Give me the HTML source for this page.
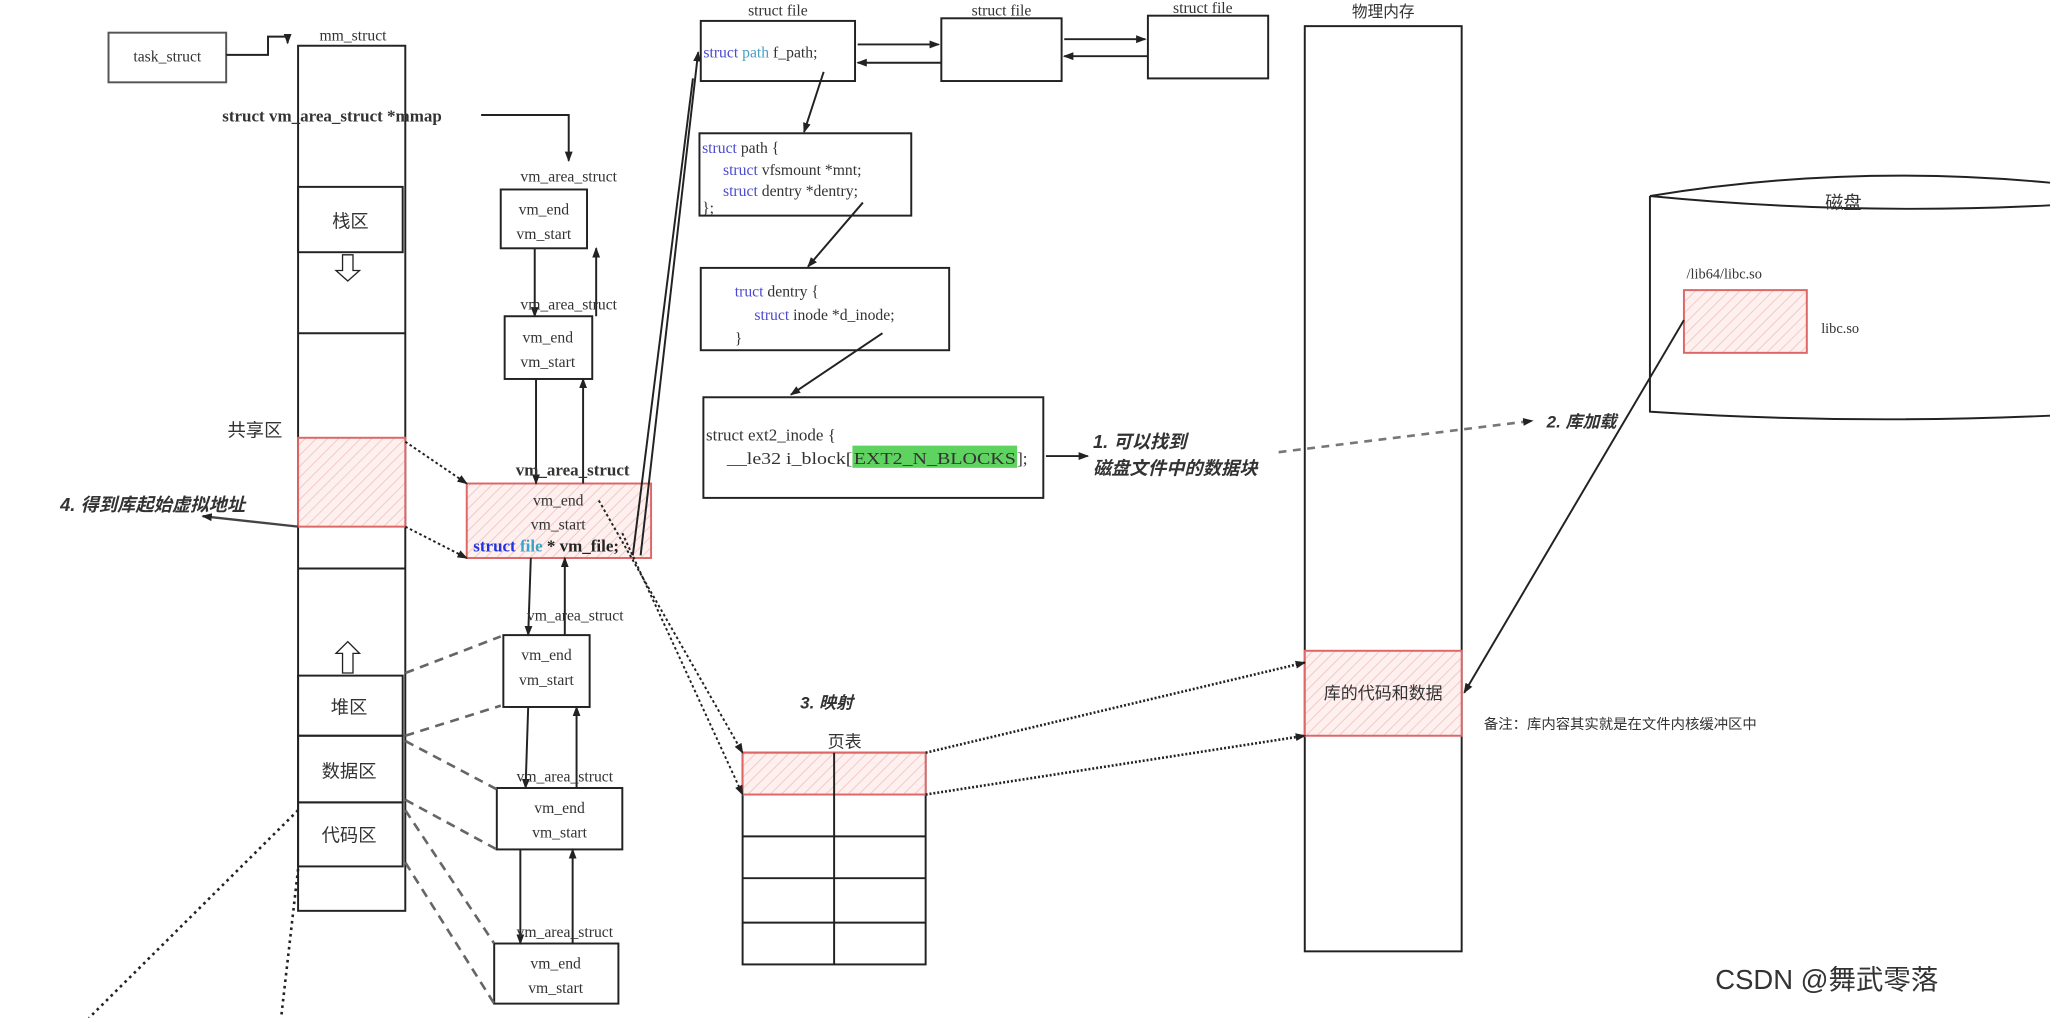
<!DOCTYPE html>
<html><head><meta charset="utf-8"><style>
html,body{margin:0;padding:0;background:#fff;}
svg{display:block;}
text{font-family:"Liberation Serif","Noto Serif CJK SC",serif;fill:#333;}
.cn{font-family:"Liberation Sans","Noto Sans CJK SC",sans-serif;}
</style></head><body>
<svg width="2050" height="1018" viewBox="0 0 1568 779" preserveAspectRatio="none" xmlns="http://www.w3.org/2000/svg">
<defs>
<marker id="a" markerWidth="8" markerHeight="8" refX="7" refY="4" orient="auto" markerUnits="userSpaceOnUse"><path d="M0,1 L8,4 L0,7 z" fill="#222"/></marker>
<pattern id="h" width="6" height="6" patternUnits="userSpaceOnUse" patternTransform="rotate(45)"><rect width="6" height="6" fill="#fdf0ef"/><line x1="0" y1="0" x2="0" y2="6" stroke="#f3c9c6" stroke-width="1.5"/></pattern>
</defs>
<g fill="none" stroke="#222" stroke-width="1.5">
<rect x="83" y="25" width="90" height="38" stroke="#555"/>
<polyline points="173,42 205,42 205,28 220,28 220,33" marker-end="url(#a)"/>
<rect x="228" y="35" width="82" height="662"/>
<rect x="228" y="143" width="80" height="50"/>
<line x1="228" y1="255" x2="310" y2="255"/>
<line x1="228" y1="435" x2="310" y2="435"/>
<rect x="228" y="335" width="82" height="68" fill="url(#h)" stroke="#d66"/>
<rect x="228" y="517" width="80" height="46"/>
<rect x="228" y="563" width="80" height="51"/>
<rect x="228" y="614" width="80" height="49"/>
<path d="M262,195 h8 v12 h5 l-9,8 l-9,-8 h5 z" stroke-width="1"/>
<path d="M262,515 h8 v-15 h5 l-9,-9 l-9,9 h5 z" stroke-width="1"/>
<polyline points="368,88 435,88 435,123" marker-end="url(#a)"/>
<rect x="383" y="145" width="66" height="45"/>
<rect x="386" y="242" width="67" height="48"/>
<rect x="357" y="370" width="141" height="57" fill="url(#h)" stroke="#d66"/>
<rect x="385" y="486" width="66" height="55"/>
<rect x="380" y="603" width="96" height="47"/>
<rect x="378" y="722" width="95" height="46"/>
<line x1="409" y1="190" x2="409" y2="242" marker-end="url(#a)"/>
<line x1="456" y1="242" x2="456" y2="190" marker-end="url(#a)"/>
<line x1="410" y1="290" x2="410" y2="370" marker-end="url(#a)"/>
<line x1="446" y1="370" x2="446" y2="290" marker-end="url(#a)"/>
<line x1="406" y1="427" x2="404" y2="486" marker-end="url(#a)"/>
<line x1="432" y1="486" x2="432" y2="427" marker-end="url(#a)"/>
<line x1="404" y1="541" x2="402" y2="603" marker-end="url(#a)"/>
<line x1="441" y1="603" x2="441" y2="541" marker-end="url(#a)"/>
<line x1="398" y1="650" x2="398" y2="722" marker-end="url(#a)"/>
<line x1="438" y1="722" x2="438" y2="650" marker-end="url(#a)"/>
<line x1="310" y1="338" x2="357" y2="370" stroke-dasharray="2,2" marker-end="url(#a)"/>
<line x1="310" y1="403" x2="357" y2="427" stroke-dasharray="2,2" marker-end="url(#a)"/>
<g stroke="#666" stroke-width="2" stroke-dasharray="7,5">
<line x1="310" y1="515" x2="383" y2="487"/>
<line x1="310" y1="563" x2="383" y2="540"/>
<line x1="310" y1="567" x2="380" y2="604"/>
<line x1="310" y1="612" x2="380" y2="650"/>
<line x1="310" y1="620" x2="378" y2="722"/>
<line x1="310" y1="660" x2="378" y2="768"/>
</g>
<line x1="228" y1="403" x2="155" y2="395" stroke="#444" stroke-width="1.8" marker-end="url(#a)"/>
<line x1="228" y1="620" x2="68" y2="779" stroke-dasharray="2,3" stroke-width="2"/>
<line x1="228" y1="665" x2="215" y2="779" stroke-dasharray="2,3" stroke-width="2"/>
<line x1="490" y1="425" x2="534" y2="40" marker-end="url(#a)"/>
<line x1="484" y1="425" x2="530" y2="60"/>
<rect x="536" y="16" width="118" height="46"/>
<rect x="720" y="14" width="92" height="48"/>
<rect x="878" y="12" width="92" height="48"/>
<line x1="656" y1="34" x2="718" y2="34" marker-end="url(#a)"/>
<line x1="720" y1="48" x2="656" y2="48" marker-end="url(#a)"/>
<line x1="814" y1="30" x2="876" y2="30" marker-end="url(#a)"/>
<line x1="878" y1="43" x2="814" y2="43" marker-end="url(#a)"/>
<line x1="630" y1="55" x2="615" y2="101" marker-end="url(#a)"/>
<rect x="535" y="102" width="162" height="63"/>
<line x1="660" y1="155" x2="618" y2="204" marker-end="url(#a)"/>
<rect x="536" y="205" width="190" height="63"/>
<line x1="675" y1="255" x2="605" y2="302" marker-end="url(#a)"/>
<rect x="538" y="304" width="260" height="77"/>
<line x1="800" y1="349" x2="832" y2="349" marker-end="url(#a)"/>
<line x1="978" y1="346" x2="1172" y2="322" stroke="#777" stroke-width="2" stroke-dasharray="6,5" marker-end="url(#a)"/>
<rect x="998" y="20" width="120" height="708"/>
<rect x="998" y="498" width="120" height="65" fill="url(#h)" stroke="#d66"/>
<path d="M1262,150 L1262,315 Q1415,325 1570,318 M1262,150 Q1415,125 1570,140 M1262,150 Q1415,165 1570,157" />
<rect x="1288" y="222" width="94" height="48" fill="url(#h)" stroke="#d66"/>
<line x1="1288" y1="245" x2="1120" y2="530" marker-end="url(#a)"/>
<rect x="568" y="576" width="140" height="162"/>
<rect x="568" y="576" width="140" height="32" fill="url(#h)" stroke="#d66"/>
<line x1="638" y1="576" x2="638" y2="738"/>
<line x1="568" y1="640" x2="708" y2="640"/>
<line x1="568" y1="672" x2="708" y2="672"/>
<line x1="568" y1="706" x2="708" y2="706"/>
<line x1="458" y1="383" x2="568" y2="576" stroke-dasharray="2,2" marker-end="url(#a)"/>
<line x1="476" y1="408" x2="568" y2="608" stroke-dasharray="2,2" marker-end="url(#a)"/>
<line x1="708" y1="576" x2="998" y2="507" stroke-dasharray="1.5,1.5" stroke-width="2" marker-end="url(#a)"/>
<line x1="708" y1="608" x2="998" y2="563" stroke-dasharray="1.5,1.5" stroke-width="2" marker-end="url(#a)"/>
</g>
<g font-size="12">
<text x="128" y="47" text-anchor="middle">task_struct</text>
<text x="270" y="31" text-anchor="middle">mm_struct</text>
<text x="170" y="93" font-weight="bold" font-size="13" fill="#222">struct vm_area_struct *mmap</text>
<text x="268" y="174" text-anchor="middle" class="cn" font-size="14">栈区</text>
<text x="195" y="334" text-anchor="middle" class="cn" font-size="14">共享区</text>
<text x="46" y="391" class="cn" font-size="14" font-weight="bold" font-style="italic" fill="#222">4. 得到库起始虚拟地址</text>
<text x="267" y="546" text-anchor="middle" class="cn" font-size="14">堆区</text>
<text x="267" y="595" text-anchor="middle" class="cn" font-size="14">数据区</text>
<text x="267" y="644" text-anchor="middle" class="cn" font-size="14">代码区</text>
<text x="435" y="139" text-anchor="middle">vm_area_struct</text>
<text x="416" y="164" text-anchor="middle">vm_end</text><text x="416" y="183" text-anchor="middle">vm_start</text>
<text x="435" y="237" text-anchor="middle">vm_area_struct</text>
<text x="419" y="262" text-anchor="middle">vm_end</text><text x="419" y="281" text-anchor="middle">vm_start</text>
<text x="438" y="364" text-anchor="middle" font-weight="bold" font-size="13" fill="#222">vm_area_struct</text>
<text x="427" y="387" text-anchor="middle">vm_end</text><text x="427" y="405" text-anchor="middle">vm_start</text>
<text x="362" y="422" font-size="13" font-weight="bold"><tspan fill="#2233dd">struct</tspan> <tspan fill="#3aa3c8">file</tspan> <tspan fill="#222">* vm_file;</tspan></text>
<text x="440" y="475" text-anchor="middle">vm_area_struct</text>
<text x="418" y="505" text-anchor="middle">vm_end</text><text x="418" y="524" text-anchor="middle">vm_start</text>
<text x="432" y="598" text-anchor="middle">vm_area_struct</text>
<text x="428" y="622" text-anchor="middle">vm_end</text><text x="428" y="641" text-anchor="middle">vm_start</text>
<text x="432" y="717" text-anchor="middle">vm_area_struct</text>
<text x="425" y="741" text-anchor="middle">vm_end</text><text x="425" y="760" text-anchor="middle">vm_start</text>
<text x="595" y="12" text-anchor="middle">struct file</text>
<text x="766" y="12" text-anchor="middle">struct file</text>
<text x="920" y="10" text-anchor="middle">struct file</text>
<text x="538" y="44"><tspan fill="#4a4ad0">struct</tspan> <tspan fill="#4aa0c0">path</tspan> f_path;</text>
<text x="537" y="117"><tspan fill="#4a4ad0">struct</tspan> path {</text>
<text x="553" y="134"><tspan fill="#4a4ad0">struct</tspan> vfsmount *mnt;</text>
<text x="553" y="150"><tspan fill="#4a4ad0">struct</tspan> dentry *dentry;</text>
<text x="537" y="163">};</text>
<text x="562" y="227"><tspan fill="#4a4ad0">truct</tspan> dentry {</text>
<text x="577" y="245"><tspan fill="#4a4ad0">struct</tspan> inode *d_inode;</text>
<text x="562" y="263" fill="#3a3">}</text>
<rect x="652" y="341" width="126" height="17" fill="#5fd35f"/>
<text x="540" y="337" font-size="13">struct ext2_inode {</text>
<text x="556" y="355" font-size="13" textLength="96" lengthAdjust="spacingAndGlyphs">__le32  i_block[</text>
<text x="653" y="355" font-size="13" textLength="124" lengthAdjust="spacingAndGlyphs" fill="#222">EXT2_N_BLOCKS</text>
<text x="778" y="355" font-size="13">];</text>
<text x="836" y="343" class="cn" font-size="14" font-weight="bold" font-style="italic" fill="#222">1. 可以找到</text>
<text x="836" y="363" class="cn" font-size="14" font-weight="bold" font-style="italic" fill="#222">磁盘文件中的数据块</text>
<text x="1183" y="327" class="cn" font-size="13" font-weight="bold" font-style="italic" fill="#444">2. 库加载</text>
<text x="1058" y="13" text-anchor="middle" class="cn">物理内存</text>
<text x="1058" y="535" text-anchor="middle" class="cn" font-size="13">库的代码和数据</text>
<text x="1410" y="160" text-anchor="middle" class="cn" font-size="14">磁盘</text>
<text x="1290" y="213" font-size="11">/lib64/libc.so</text>
<text x="1393" y="255" font-size="11" fill="#443366">libc.so</text>
<text x="1135" y="558" class="cn" font-size="11">备注：库内容其实就是在文件内核缓冲区中</text>
<text x="612" y="542" class="cn" font-size="13" font-weight="bold" font-style="italic" fill="#222">3. 映射</text>
<text x="633" y="572" class="cn" font-size="13">页表</text>
<text x="1312" y="757" class="cn" font-size="21" fill="#bbb">CSDN @舞武零落</text>
</g>
</svg>
</body></html>
